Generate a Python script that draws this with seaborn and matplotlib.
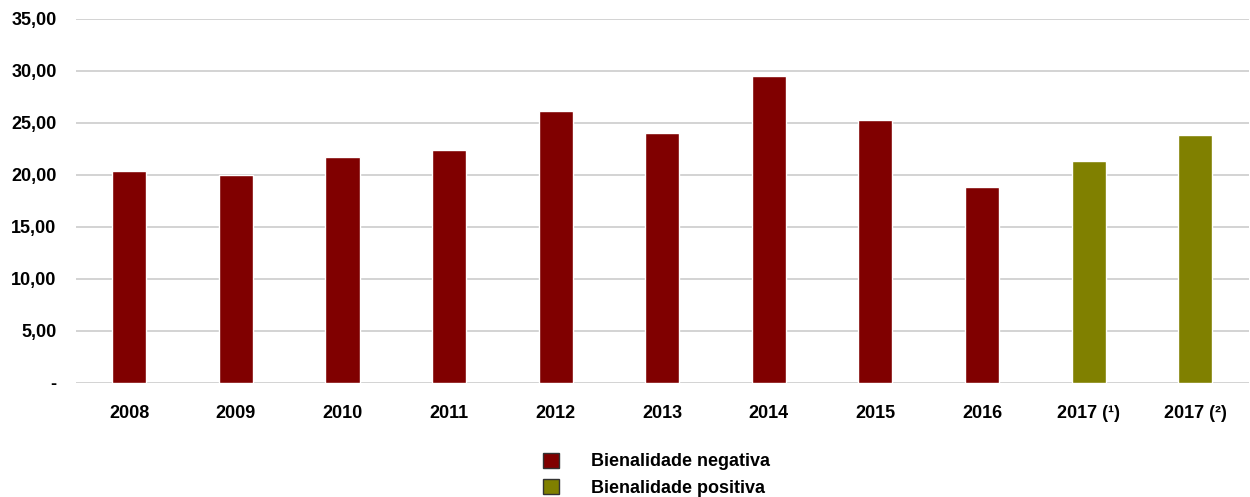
import pandas as pd
import matplotlib.pyplot as plt
import seaborn as sns
from matplotlib.patches import Patch
from matplotlib.ticker import FuncFormatter

# Values
anos = ['2008', '2009', '2010', '2011', '2012', '2013', '2014', '2015', '2016',
        '2017 (¹)', '2017 (²)']
valores = [20.4, 20.0, 21.7, 22.4, 26.2, 24.0, 29.5, 25.3, 18.8, 21.3, 23.8]
bienalidade = ['Bienalidade negativa'] * 9 + ['Bienalidade positiva'] * 2

cores = {'Bienalidade negativa': '#800000', 'Bienalidade positiva': '#808000'}

df = pd.DataFrame({'ano': anos, 'valor': valores, 'bienalidade': bienalidade})

sns.set_style('white')
plt.rcParams['font.family'] = ['Liberation Sans', 'DejaVu Sans']
plt.rcParams['text.color'] = 'black'
plt.rcParams['xtick.color'] = 'black'
plt.rcParams['ytick.color'] = 'black'

fig = plt.figure(figsize=(12.5, 4.97), dpi=100)
ax = fig.add_axes([0.0608, 0.2294, 0.938, 0.7324])

sns.barplot(data=df, x='ano', y='valor', hue='bienalidade', palette=cores,
            dodge=False, width=0.32, saturation=1, legend=False, ax=ax, zorder=3)

ax.set_ylim(0, 35)
ax.set_yticks(range(0, 36, 5))
ax.yaxis.set_major_formatter(FuncFormatter(
    lambda v, p: '-' if v == 0 else f'{v:.2f}'.replace('.', ',')))
ax.grid(axis='y', color='#d0d0d0', linewidth=1.3, zorder=0)
ax.set_axisbelow(True)
for s in ax.spines.values():
    s.set_visible(False)
ax.set_xlabel('')
ax.set_ylabel('')
ax.tick_params(axis='both', length=0, labelsize=13)
ax.tick_params(axis='x', pad=16)
ax.tick_params(axis='y', pad=14)
for lbl in ax.get_xticklabels() + ax.get_yticklabels():
    lbl.set_fontweight('bold')

handles = [Patch(facecolor=c, edgecolor='#333333', label=k) for k, c in cores.items()]
fig.legend(handles=handles, loc='upper left', bbox_to_anchor=(0.421, 0.122),
           frameon=False, handlelength=0.9, handleheight=0.9,
           handletextpad=1.8, labelspacing=0.5,
           prop={'weight': 'bold', 'size': 13})

fig.savefig('out.png', dpi=100)
